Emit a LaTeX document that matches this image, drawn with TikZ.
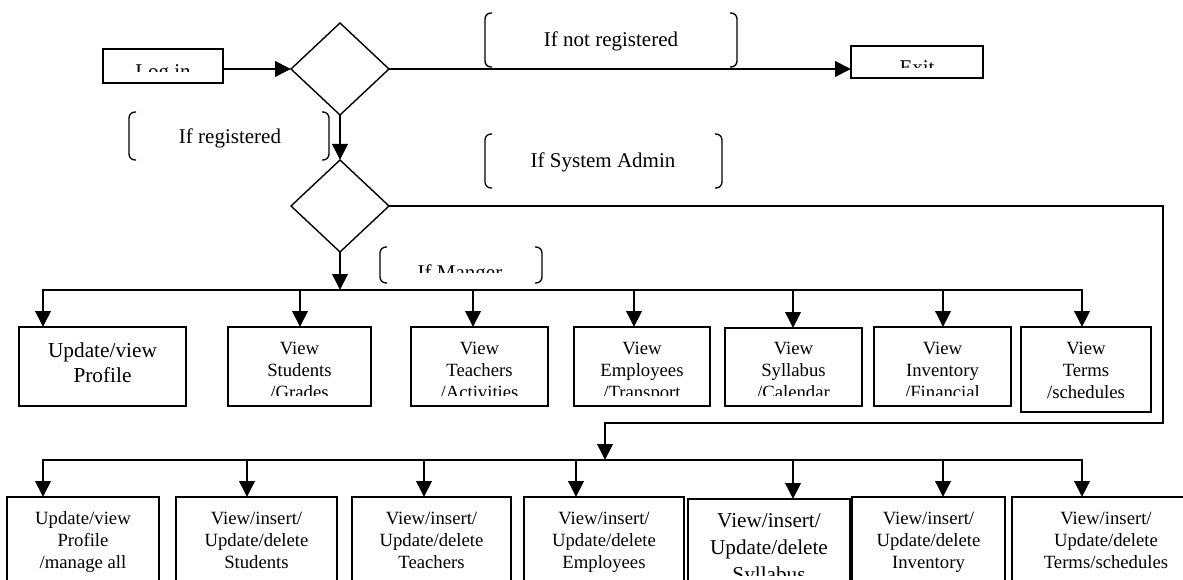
\documentclass[tikz,border=0pt]{standalone}
\usepackage{fontspec}
\setmainfont{Liberation Serif}
\usetikzlibrary{arrows.meta,shapes.geometric}

% font sizes used in the chart
\newcommand{\fsLabel}{\fontsize{21}{25}\selectfont}
\newcommand{\fsBig}{\fontsize{21.3}{25}\selectfont}
\newcommand{\fsBox}{\fontsize{18.7}{21.7}\selectfont}
\newcommand{\fsSyl}{\fontsize{21.2}{26.7}\selectfont}

% rectangle node from its corner coordinates: [style]{name}{x1}{y1}{x2}{y2}
\newcommand{\rectnode}[6][]{%
  \pgfmathsetmacro{\rnCx}{(#3+#5)/2}%
  \pgfmathsetmacro{\rnCy}{(#4+#6)/2}%
  \pgfmathsetmacro{\rnW}{#5-#3}%
  \pgfmathsetmacro{\rnH}{#6-#4}%
  \node[#1, minimum width=\rnW pt, minimum height=\rnH pt] (#2) at (\rnCx,\rnCy) {};}

\tikzset{
  box/.style={draw, rectangle, line width=1.8pt, inner sep=0pt, outer sep=0pt},
  frame/.style={rectangle, inner sep=0pt, outer sep=0pt},
  decision/.style={draw, diamond, line width=1.4pt, minimum width=98pt,
    minimum height=92pt, inner sep=0pt, outer sep=0pt},
  wire/.style={line width=2pt},
  conn/.style={wire, ->},
  brace/.style={line width=1.3pt, rounded corners=6pt},
  lbl/.style={inner sep=0pt, outer sep=0pt, anchor=base},
  txt/.style={inner sep=0pt, outer sep=0pt, align=center, anchor=north},
}

\begin{document}
\begin{tikzpicture}[x=1pt, y=-1pt, >={Triangle[length=16pt,width=15.5pt]}]
\useasboundingbox (0,0) rectangle (1183,580);
\fill[white] (0,0) rectangle (1183,580);

% ---- entry, exit and decisions ----
\rectnode[box]{login}{103}{49}{223}{83}
\rectnode[box]{exit}{851}{46}{983}{78}
\node[decision] (d1) at (340,69) {};
\node[decision] (d2) at (340,206) {};

\begin{scope}
  \clip (login.north west) rectangle (login.east |- 0,72);
  \node[lbl, font=\fsLabel] (logintxt) at (login.center |- 0,79) {Log in};
\end{scope}
\begin{scope}
  \clip (exit.north west) rectangle (exit.east |- 0,68);
  \node[lbl, font=\fsLabel] (exittxt) at (exit.center |- 0,75) {Exit};
\end{scope}

% ---- condition labels in bracket frames ----
\rectnode[frame]{fnr}{485}{13}{737}{67}
\rectnode[frame]{freg}{129}{112}{329}{160}
\rectnode[frame]{fadm}{485}{134}{722}{188}
\rectnode[frame]{fmgr}{380}{247}{542}{283}

\node[lbl, font=\fsLabel] (nrtxt) at (611,47) {If not registered};
\node[lbl, font=\fsLabel] (regtxt) at (230,144) {If registered};
\node[lbl, font=\fsLabel] (admtxt) at (603,168) {If System Admin};
\begin{scope}
  \clip (fmgr.north west) rectangle (fmgr.east |- 0,272);
  \node[lbl, font=\fsLabel] (mgrtxt) at (460,279) {If Manger};
\end{scope}

\foreach \f in {fnr,freg,fadm,fmgr}{
  \draw[brace] ([xshift=7pt]\f.north west) -- (\f.north west)
               -- (\f.south west) -- ([xshift=7pt]\f.south west);
  \draw[brace] ([xshift=-7pt]\f.north east) -- (\f.north east)
               -- (\f.south east) -- ([xshift=-7pt]\f.south east);
}

% ---- manager functions ----
\rectnode[box]{t1}{19}{327}{186}{406}
\rectnode[box]{t2}{228}{327}{371}{406}
\rectnode[box]{t3}{411}{327}{548}{406}
\rectnode[box]{t4}{574}{327}{710}{406}
\rectnode[box]{t5}{725}{328}{862}{406}
\rectnode[box]{t6}{874}{327}{1011}{406}
\rectnode[box]{t7}{1021}{327}{1151}{412}

\node[txt, font=\fsBig] (t1txt) at (t1.center |- 0,339.5) {\strut Update/view\\Profile};
\node[txt, font=\fsBox] (t7txt) at (t7.center |- 0,339.8) {\strut View\\Terms\\/schedules};
\foreach \b/\s in {t2/{Students\\/Grades}, t3/{Teachers\\/Activities},
                   t4/{Employees\\/Transport}, t5/{Syllabus\\/Calendar},
                   t6/{Inventory\\/Financial}}{
  \begin{scope}
    \clip (\b.north west) rectangle (\b.east |- 0,395);
    \node[txt, font=\fsBox] at (\b.center |- 0,339.8) {\strut View\\\s};
  \end{scope}
}

% ---- system admin functions ----
\rectnode[box]{b1}{7}{497}{159}{610}
\rectnode[box]{b2}{176}{497}{337}{610}
\rectnode[box]{b3}{352}{497}{511}{610}
\rectnode[box]{b4}{524}{497}{684}{610}
\rectnode[box]{b5}{688}{499}{850}{610}
\rectnode[box]{b6}{852}{497}{1005}{610}
\rectnode[box]{b7}{1012}{497}{1200}{610}

\node[txt, font=\fsBox] (b1txt) at (b1.center |- 0,509.8) {\strut Update/view\\Profile\\/manage all};
\foreach \b/\s in {b2/{Students}, b3/{Teachers}, b4/{Employees},
                   b6/{Inventory}, b7/{Terms/schedules}}{
  \node[txt, font=\fsBox] at (\b.center |- 0,509.8) {\strut View/insert/\\Update/delete\\\s};
}
\begin{scope}
  \clip (b5.north west) rectangle (b5.east |- 0,575);
  \node[txt, font=\fsSyl] (b5txt) at (b5.center |- 0,509.3) {\strut View/insert/\\Update/delete\\Syllabus};
\end{scope}

% ---- bus coordinates ----
\coordinate (ua) at (43,290);   \coordinate (ub) at (300,290);
\coordinate (uc) at (473,290);  \coordinate (ud) at (634,290);
\coordinate (ue) at (793,290);  \coordinate (uf) at (943,290);
\coordinate (ug) at (1082,290);
\coordinate (la) at (43,460);   \coordinate (lb) at (247,460);
\coordinate (lc) at (424,460);  \coordinate (ld) at (576,460);
\coordinate (le) at (793,460);  \coordinate (lf) at (943,460);
\coordinate (lg) at (1082,460);
\coordinate (turn) at (1163,423);
\coordinate (drop) at (605,460);

% ---- connectors ----
\draw[conn] (login.east |- d1.west) -- (d1.west);
\draw[conn] (d1.east) -- (d1.east -| exit.west);
\draw[conn] (d1.south) -- (d2.north);
\draw[conn] (d2.south) -- (d2.south |- ua);
\draw[conn] (d2.east) -- (d2.east -| turn) -- (turn) -- (turn -| drop) -- (drop);

\draw[wire, <->] (ua |- t1.north) -- (ua) -- (ug) -- (ug |- t7.north);
\foreach \c/\b in {ub/t2, uc/t3, ud/t4, ue/t5, uf/t6}{
  \draw[conn] (\c) -- (\c |- \b.north);
}
\draw[wire, <->] (la |- b1.north) -- (la) -- (lg) -- (lg |- b7.north);
\foreach \c/\b in {lb/b2, lc/b3, ld/b4, le/b5, lf/b6}{
  \draw[conn] (\c) -- (\c |- \b.north);
}
\end{tikzpicture}
\end{document}
